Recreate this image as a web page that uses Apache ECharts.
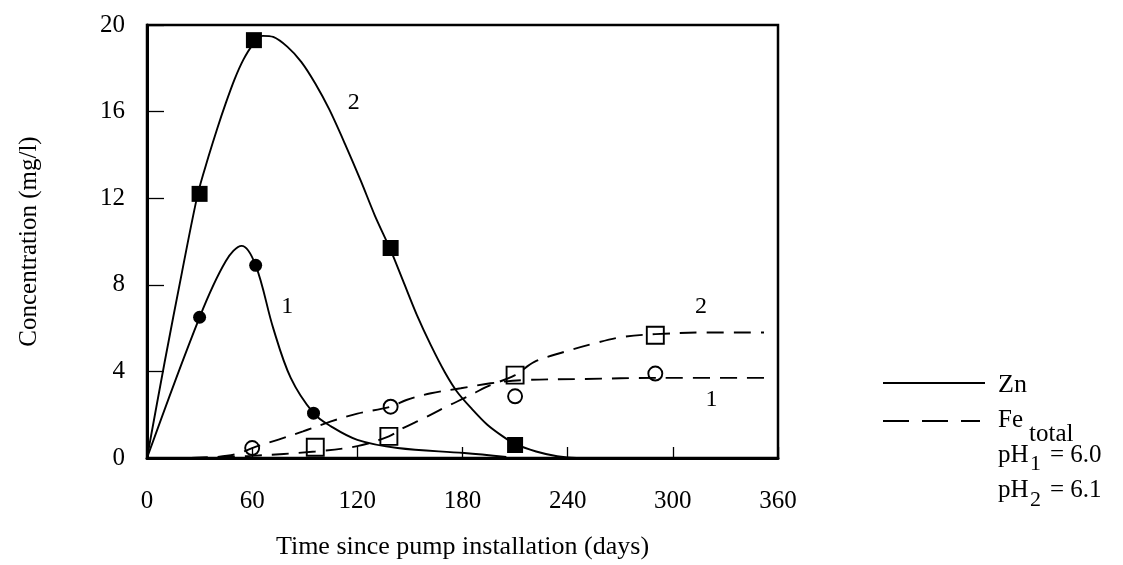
<!DOCTYPE html>
<html>
<head>
<meta charset="utf-8">
<script src="https://cdn.jsdelivr.net/npm/echarts@6/dist/echarts.min.js"></script>
<style>
html,body{margin:0;padding:0;background:#fff;}
#chart{width:1123px;height:565px;}
</style>
</head>
<body>
<div id="chart"></div>
<script>
// ---- measured points (markers) ----
const znPH2Days = [30, 61, 139, 210];
const znPH2Vals = [12.2, 19.3, 9.7, 0.6];
const znPH1Days = [30, 62, 95];
const znPH1Vals = [6.5, 8.9, 2.07];
const fePH1Days = [60, 139, 210, 290];
const fePH1Vals = [0.46, 2.37, 2.85, 3.9];
const fePH2Days = [96, 138, 210, 290];
const fePH2Vals = [0.5, 1.0, 3.83, 5.67];

// ---- fitted curves ----
const znPH2CurveDays = [0, 10, 20, 29, 35, 40, 45, 50, 55, 60, 66, 72, 80, 88, 96, 104, 113, 122, 130, 139, 146, 154, 162, 170, 177, 185, 194, 203, 210, 222, 234, 245, 262];
const znPH2CurveVals = [0, 4.4, 8.6, 12.2, 13.9, 15.2, 16.4, 17.5, 18.4, 19.05, 19.5, 19.45, 19.0, 18.3, 17.3, 16.1, 14.5, 12.8, 11.2, 9.6, 8.2, 6.6, 5.2, 3.95, 3.05, 2.3, 1.55, 1.0, 0.65, 0.3, 0.08, 0, 0];
const znPH1CurveDays = [0, 30, 45, 54, 62, 72, 82, 95, 105, 120, 143, 181, 205];
const znPH1CurveVals = [0, 6.5, 9.1, 9.8, 8.9, 6.0, 3.7, 2.07, 1.46, 0.84, 0.46, 0.23, 0.05];
const fePH1CurveDays = [25, 40, 52, 60, 75, 89, 105, 120, 139, 148, 162, 179, 196, 215, 250, 290, 352];
const fePH1CurveVals = [0, 0.05, 0.2, 0.46, 0.85, 1.23, 1.69, 2.05, 2.37, 2.68, 2.99, 3.22, 3.45, 3.6, 3.65, 3.7, 3.7];
const fePH2CurveDays = [25, 60, 96, 120, 138, 146, 158, 171, 183, 194, 210, 221, 238, 255, 272, 290, 320, 352];
const fePH2CurveVals = [0, 0.1, 0.3, 0.55, 1.0, 1.38, 1.84, 2.38, 2.84, 3.3, 3.83, 4.44, 4.9, 5.29, 5.6, 5.72, 5.8, 5.8];

// ---- curve labels ----
const curveLabelTexts = ['2', '1', '2', '1'];
const curveLabelDays = [118, 80, 316, 322];
const curveLabelVals = [16.4, 7.0, 7.0, 2.7];

const xTickValues = [0, 60, 120, 180, 240, 300, 360];
const yTickValues = [0, 4, 8, 12, 16, 20];

const zip = (a, b) => a.map((v, i) => [v, b[i]]);
const FONT = '"Liberation Serif", "DejaVu Serif", serif';

const chart = echarts.init(document.getElementById('chart'));
const solid = {color: '#000', width: 1.9, type: 'solid'};
const dashed = {color: '#000', width: 1.9, type: [17, 10]};

const option = {
  backgroundColor: '#fff',
  animation: false,
  grid: {left: 147, right: 345, top: 25, bottom: 105, show: true, borderColor: '#000', borderWidth: 2.5, backgroundColor: 'transparent'},
  xAxis: {
    type: 'value', min: xTickValues[0], max: xTickValues[xTickValues.length - 1], interval: 60,
    name: 'Time since pump installation (days)', nameLocation: 'middle', nameGap: 76,
    nameTextStyle: {fontFamily: FONT, fontSize: 26, color: '#000'},
    axisLine: {show: true, onZero: false, lineStyle: {color: '#000', width: 3}},
    axisTick: {show: true, inside: true, length: 11, lineStyle: {color: '#000', width: 1.3}},
    axisLabel: {fontFamily: FONT, fontSize: 25, color: '#000', margin: 31},
    splitLine: {show: false}
  },
  yAxis: {
    type: 'value', min: yTickValues[0], max: yTickValues[yTickValues.length - 1], interval: 4,
    name: 'Concentration (mg/l)', nameLocation: 'middle', nameGap: 105, nameRotate: 90,
    nameTextStyle: {fontFamily: FONT, fontSize: 25, color: '#000'},
    axisLine: {show: true, onZero: false, lineStyle: {color: '#000', width: 3}},
    axisTick: {show: true, inside: true, length: 17, lineStyle: {color: '#000', width: 1.3}},
    axisLabel: {fontFamily: FONT, fontSize: 25, color: '#000', margin: 22},
    splitLine: {show: false}
  },
  series: [
    {type: 'line', data: zip(znPH2CurveDays, znPH2CurveVals), smooth: 0.3, showSymbol: false, lineStyle: solid, z: 2},
    {type: 'line', data: zip(znPH1CurveDays, znPH1CurveVals), smooth: 0.35, showSymbol: false, lineStyle: solid, z: 2},
    {type: 'line', data: zip(fePH1CurveDays, fePH1CurveVals), smooth: 0.35, showSymbol: false, lineStyle: dashed, z: 2},
    {type: 'line', data: zip(fePH2CurveDays, fePH2CurveVals), smooth: 0.35, showSymbol: false, lineStyle: dashed, z: 2},
    {type: 'scatter', data: zip(znPH2Days, znPH2Vals), symbol: 'rect', symbolSize: 16, itemStyle: {color: '#000', opacity: 1}, z: 3},
    {type: 'scatter', data: zip(znPH1Days, znPH1Vals), symbol: 'circle', symbolSize: 13, itemStyle: {color: '#000', opacity: 1}, z: 3},
    {type: 'scatter', data: zip(fePH1Days, fePH1Vals), symbol: 'circle', symbolSize: 14, itemStyle: {color: 'rgba(0,0,0,0)', borderColor: '#000', borderWidth: 1.9, opacity: 1}, z: 3},
    {type: 'scatter', data: zip(fePH2Days, fePH2Vals), symbol: 'rect', symbolSize: 17, itemStyle: {color: 'rgba(0,0,0,0)', borderColor: '#000', borderWidth: 1.9, opacity: 1}, z: 3},
    {type: 'scatter', data: curveLabelDays.map((d, i) => ({value: [d, curveLabelVals[i]], name: curveLabelTexts[i]})),
      symbolSize: 0, silent: true, itemStyle: {opacity: 1},
      label: {show: true, position: 'inside', formatter: p => p.name, fontFamily: FONT, fontSize: 24, color: '#000'}, z: 4}
  ],
  graphic: [
    {type: 'line', shape: {x1: 883, y1: 383, x2: 985, y2: 383}, style: {stroke: '#000', lineWidth: 2.2}},
    {type: 'text', x: 998, y: 385, style: {text: 'Zn', font: '26px ' + FONT, fill: '#000', verticalAlign: 'middle'}},
    {type: 'line', shape: {x1: 883, y1: 421, x2: 980, y2: 421}, style: {stroke: '#000', lineWidth: 2.2, lineDash: [26, 13]}},
    {type: 'text', x: 998, y: 420, style: {text: 'Fe', font: '25px ' + FONT, fill: '#000', verticalAlign: 'middle'}},
    {type: 'text', x: 1029, y: 434, style: {text: 'total', font: '25px ' + FONT, fill: '#000', verticalAlign: 'middle'}},
    {type: 'text', x: 998, y: 455, style: {text: 'pH', font: '25px ' + FONT, fill: '#000', verticalAlign: 'middle'}},
    {type: 'text', x: 1030, y: 464, style: {text: '1', font: '22px ' + FONT, fill: '#000', verticalAlign: 'middle'}},
    {type: 'text', x: 1050, y: 455, style: {text: '= 6.0', font: '25px ' + FONT, fill: '#000', verticalAlign: 'middle'}},
    {type: 'text', x: 998, y: 490, style: {text: 'pH', font: '25px ' + FONT, fill: '#000', verticalAlign: 'middle'}},
    {type: 'text', x: 1030, y: 500, style: {text: '2', font: '22px ' + FONT, fill: '#000', verticalAlign: 'middle'}},
    {type: 'text', x: 1050, y: 490, style: {text: '= 6.1', font: '25px ' + FONT, fill: '#000', verticalAlign: 'middle'}}
  ]
};
chart.setOption(option);
</script>
</body>
</html>
